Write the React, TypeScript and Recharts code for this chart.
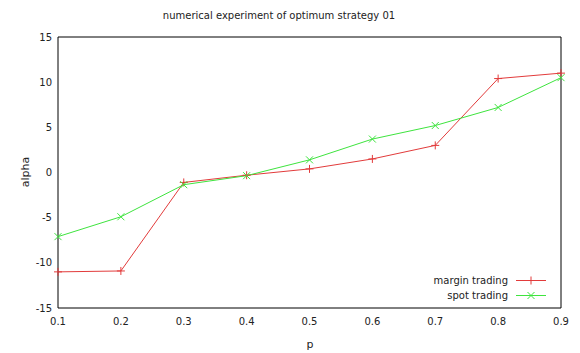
import { LineChart, Line, XAxis, YAxis } from "recharts";

const pValues = [0.1, 0.2, 0.3, 0.4, 0.5, 0.6, 0.7, 0.8, 0.9];
const marginTrading = [-11.0, -10.9, -1.1, -0.3, 0.4, 1.5, 3.0, 10.4, 11.0];
const spotTrading = [-7.1, -4.9, -1.35, -0.35, 1.4, 3.7, 5.2, 7.2, 10.5];
const xTicks = [0.1, 0.2, 0.3, 0.4, 0.5, 0.6, 0.7, 0.8, 0.9];
const yTicks = [-15, -10, -5, 0, 5, 10, 15];

const data = pValues.map((p, i) => ({ p, margin: marginTrading[i], spot: spotTrading[i] }));

const RED = "#e23b3b";
const GREEN = "#3ee43e";
const FONT = "'DejaVu Sans', sans-serif";
const tickStyle = { fontSize: 10, fill: "#222", fontFamily: FONT };

const PlusDot = (props: any) => {
  const { cx, cy } = props;
  if (cx == null || cy == null) return null;
  return (
    <g stroke={RED} strokeWidth={1}>
      <line x1={cx - 4} y1={cy} x2={cx + 4} y2={cy} />
      <line x1={cx} y1={cy - 4} x2={cx} y2={cy + 4} />
    </g>
  );
};

const CrossDot = (props: any) => {
  const { cx, cy } = props;
  if (cx == null || cy == null) return null;
  return (
    <g stroke={GREEN} strokeWidth={1}>
      <line x1={cx - 3.5} y1={cy - 3.5} x2={cx + 3.5} y2={cy + 3.5} />
      <line x1={cx - 3.5} y1={cy + 3.5} x2={cx + 3.5} y2={cy - 3.5} />
    </g>
  );
};

const keys = [
  { label: "margin trading", color: RED, mark: "plus" },
  { label: "spot trading", color: GREEN, mark: "cross" },
];

const KeyBox = () => (
  <div style={{ position: "absolute", right: 30, top: 273, fontFamily: FONT, fontSize: 10, color: "#222", lineHeight: "15px" }}>
    {keys.map((k) => (
      <div key={k.label} style={{ display: "flex", justifyContent: "flex-end", alignItems: "center" }}>
        <span>{k.label}</span>
        <svg width={36} height={15} style={{ marginLeft: 6 }}>
          <line x1={2} y1={7.5} x2={32} y2={7.5} stroke={k.color} />
          {k.mark === "plus" ? (
            <g stroke={k.color}>
              <line x1={13} y1={7.5} x2={21} y2={7.5} />
              <line x1={17} y1={3.5} x2={17} y2={11.5} />
            </g>
          ) : (
            <g stroke={k.color}>
              <line x1={13.5} y1={4} x2={20.5} y2={11} />
              <line x1={13.5} y1={11} x2={20.5} y2={4} />
            </g>
          )}
        </svg>
      </div>
    ))}
  </div>
);

export default function App() {
  return (
    <div style={{ position: "absolute", left: 0, top: 0, width: 580, height: 353, background: "#fff" }}>
      <div style={{ position: "absolute", top: 10, left: 279, whiteSpace: "nowrap", transform: "translateX(-50%)", fontFamily: FONT, fontSize: 10, color: "#222" }}>
        numerical experiment of optimum strategy 01
      </div>
      <div style={{ position: "absolute", left: 310, top: 338, fontFamily: FONT, fontSize: 11, color: "#222", transform: "translateX(-50%)" }}>p</div>
      <div style={{ position: "absolute", left: 25, top: 172, fontFamily: FONT, fontSize: 11, color: "#222", transform: "translate(-50%,-50%) rotate(-90deg)" }}>alpha</div>
      <LineChart width={580} height={353} data={data} margin={{ top: 37, right: 19, bottom: 25, left: 8 }}>
        <XAxis dataKey="p" type="number" domain={[0.1, 0.9]} ticks={xTicks} tick={tickStyle} tickLine={false} axisLine={false} tickMargin={4} height={20} interval={0} />
        <XAxis xAxisId="b" dataKey="p" type="number" domain={[0.1, 0.9]} ticks={xTicks} orientation="bottom" mirror tick={false} tickSize={5} axisLine={{ stroke: "#000" }} tickLine={{ stroke: "#000" }} />
        <XAxis xAxisId="t" dataKey="p" type="number" domain={[0.1, 0.9]} ticks={xTicks} orientation="top" mirror tick={false} tickSize={5} axisLine={{ stroke: "#000" }} tickLine={{ stroke: "#000" }} />
        <YAxis type="number" domain={[-15, 15]} ticks={yTicks} tick={tickStyle} tickLine={false} axisLine={false} tickMargin={0} width={50} interval={0} />
        <YAxis yAxisId="l" type="number" domain={[-15, 15]} ticks={yTicks} orientation="left" mirror tick={false} tickSize={5} axisLine={{ stroke: "#000" }} tickLine={{ stroke: "#000" }} />
        <YAxis yAxisId="r" type="number" domain={[-15, 15]} ticks={yTicks} orientation="right" mirror tick={false} tickSize={5} axisLine={{ stroke: "#000" }} tickLine={{ stroke: "#000" }} />
        <Line dataKey="margin" name="margin trading" stroke={RED} strokeWidth={1} dot={<PlusDot />} activeDot={false} isAnimationActive={false} />
        <Line dataKey="spot" name="spot trading" stroke={GREEN} strokeWidth={1} dot={<CrossDot />} activeDot={false} isAnimationActive={false} />
      </LineChart>
      <KeyBox />
    </div>
  );
}
